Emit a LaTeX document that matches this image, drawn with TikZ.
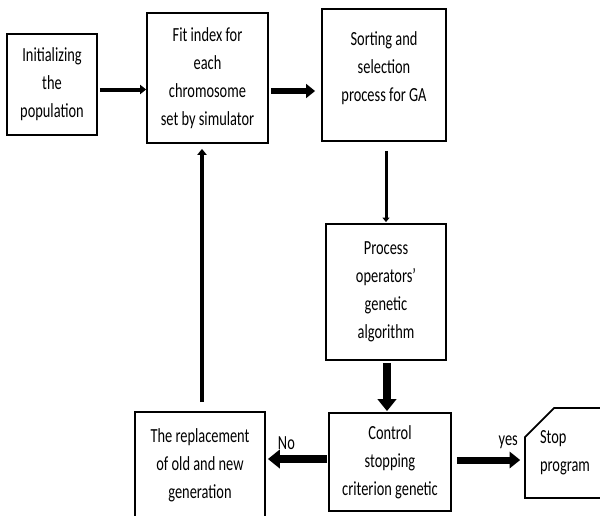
\documentclass[tikz,border=0pt]{standalone}
\usepackage{fontspec}
\setmainfont{Carlito}[FakeStretch=0.72]
\usetikzlibrary{arrows.meta,shapes.misc}
\begin{document}
\begin{tikzpicture}[x=1pt,y=-1pt,
  box/.style={draw, line width=1.8pt, align=center, inner sep=0pt,
    font=\fontsize{20}{28}\selectfont},
  lbl/.style={font=\fontsize{20}{28}\selectfont, inner sep=0pt},
  arr/.style={draw, -{Triangle[length=#1*1.5pt, width=#1*2.3pt]}, line width=#1*1pt},
  arr/.default=4]
\useasboundingbox (0,0) rectangle (600,515);
\node[box, minimum width=90pt, minimum height=101pt] (init) at (52,84.5) {Initializing\\the\\population};
\node[box, minimum width=121pt, minimum height=130pt] (fit) at (207.5,78) {Fit index for\\each\\chromosome\\set by simulator};
\node[box, minimum width=124pt, minimum height=132pt] (sort) at (384,75) {Sorting and\\selection\\process for GA\\[-12pt]\mbox{}};
\node[box, minimum width=120pt, minimum height=136pt] (proc) at (386,292) {Process\\operators'\\genetic\\algorithm};
\node[box, minimum width=122pt, minimum height=98pt] (ctrl) at (390,462) {Control\\stopping\\criterion genetic};
\node[box, minimum width=130pt, minimum height=106pt] (repl) at (200,465) {The replacement\\of old and new\\generation};
\node[box, chamfered rectangle, chamfered rectangle corners=north west,
  chamfered rectangle xsep=15pt, chamfered rectangle ysep=14pt,
  minimum width=76pt, minimum height=90pt, align=left] (stop) at (565,453) {Stop\\program};
\draw[arr=4, shorten <=2pt] ([yshift=-5pt]init.east) -- ([yshift=-5pt]init.east -| fit.west);
\draw[arr=6, shorten <=2pt, shorten >=6pt] ([yshift=-13pt]fit.east) -- ([yshift=-13pt]fit.east -| sort.west);
\draw[arr=3, shorten <=9pt, shorten >=1pt] ([xshift=2pt]sort.south) -- ([xshift=2pt]sort.south |- proc.north);
\draw[arr=8, shorten <=2pt, shorten >=1pt] ([xshift=1pt]proc.south) -- ([xshift=1pt]proc.south |- ctrl.north);
\draw[arr=8, shorten <=1pt, shorten >=2pt] ([yshift=3pt]ctrl.west) -- node[lbl, pos=0.67, yshift=16pt] (no) {No} ([yshift=3pt]ctrl.west -| repl.east);
\draw[arr=7, shorten <=5pt, shorten >=4pt] ([yshift=2pt]ctrl.east) -- node[lbl, pos=0.78, yshift=18pt] (yes) {yes} ([yshift=2pt]ctrl.east -| stop.west);
\draw[arr=4, shorten <=9pt, shorten >=5pt] ([xshift=2pt]repl.north) -- ([xshift=2pt]repl.north |- fit.south);
\end{tikzpicture}
\end{document}
